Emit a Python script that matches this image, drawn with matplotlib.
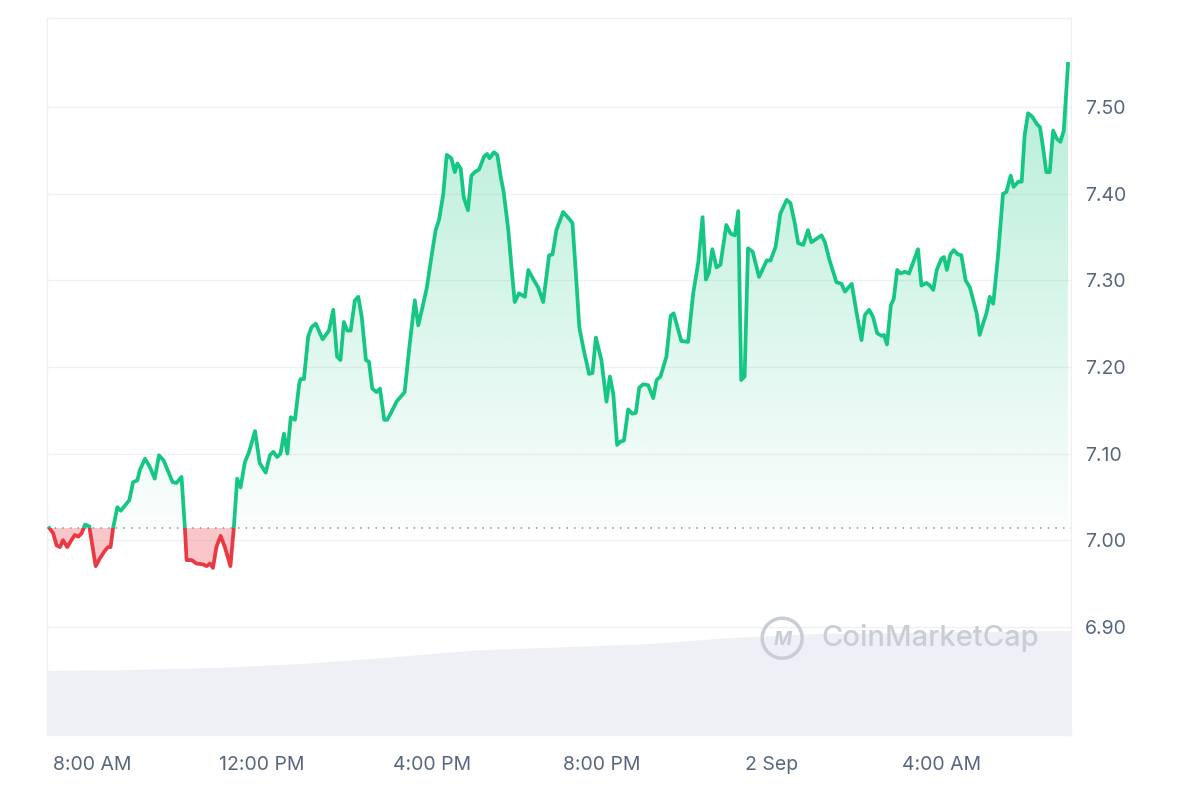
import numpy as np
import matplotlib
matplotlib.use("Agg")
import matplotlib.pyplot as plt
from matplotlib.patches import Rectangle, Ellipse

# hours after 7:00 AM and price (USD)
hours = [0.00, 0.09, 0.17, 0.25, 0.32, 0.42, 0.52, 0.60, 0.68, 0.76, 0.84, 0.94,
         1.09, 1.19, 1.31, 1.38, 1.44, 1.50, 1.60, 1.68, 1.78, 1.88, 1.97, 2.07,
         2.13, 2.25, 2.36, 2.48, 2.58, 2.69, 2.80, 2.90, 2.99, 3.11, 3.19, 3.23,
         3.35, 3.46, 3.62, 3.70, 3.78, 3.85, 3.93, 4.03, 4.13, 4.26, 4.34, 4.42,
         4.50, 4.60, 4.70, 4.84, 4.95, 5.09, 5.19, 5.27, 5.36, 5.44, 5.52, 5.60,
         5.68, 5.78, 5.88, 5.91, 5.99, 6.09, 6.17, 6.27, 6.43, 6.58, 6.68, 6.77,
         6.85, 6.93, 7.01, 7.09, 7.19, 7.27, 7.35, 7.45, 7.52, 7.60, 7.70, 7.78,
         7.88, 7.95, 8.05, 8.17, 8.36, 8.48, 8.60, 8.68, 8.78, 8.88, 8.99, 9.09,
         9.17, 9.27, 9.35, 9.46, 9.54, 9.60, 9.68, 9.75, 9.85, 9.93, 10.01, 10.11,
         10.23, 10.30, 10.36, 10.46, 10.54, 10.62, 10.69, 10.80, 10.88, 10.95, 11.05, 11.19,
         11.27, 11.38, 11.50, 11.62, 11.76, 11.84, 11.93, 12.09, 12.25, 12.31, 12.40, 12.47,
         12.56, 12.70, 12.78, 12.86, 12.99, 13.11, 13.19, 13.27, 13.36, 13.44, 13.52, 13.62,
         13.72, 13.80, 13.88, 13.97, 14.09, 14.21, 14.29, 14.38, 14.52, 14.62, 14.69, 14.87,
         15.03, 15.15, 15.27, 15.37, 15.45, 15.52, 15.60, 15.70, 15.79, 15.93, 16.03, 16.13,
         16.21, 16.28, 16.36, 16.44, 16.55, 16.70, 16.88, 16.97, 17.09, 17.20, 17.35, 17.44,
         17.54, 17.62, 17.74, 17.85, 17.93, 18.05, 18.17, 18.25, 18.36, 18.52, 18.64, 18.72,
         18.88, 18.99, 19.11, 19.19, 19.29, 19.38, 19.48, 19.58, 19.64, 19.71, 19.80, 19.87,
         19.95, 20.03, 20.13, 20.23, 20.32, 20.44, 20.52, 20.64, 20.72, 20.80, 20.88, 20.99,
         21.05, 21.12, 21.20, 21.28, 21.38, 21.46, 21.56, 21.66, 21.82, 21.89, 21.97, 22.05,
         22.13, 22.21, 22.32, 22.44, 22.52, 22.62, 22.69, 22.80, 22.88, 22.95, 23.03, 23.13,
         23.23, 23.31, 23.38, 23.46, 23.54, 23.62, 23.70, 23.79, 23.87, 23.97]
price = [7.014, 7.008, 6.994, 6.992, 7.000, 6.992, 7.000, 7.006, 7.004, 7.008, 7.018, 7.016,
         6.970, 6.979, 6.988, 6.992, 6.992, 7.014, 7.038, 7.034, 7.040, 7.046, 7.067, 7.069,
         7.081, 7.094, 7.085, 7.071, 7.098, 7.092, 7.079, 7.067, 7.066, 7.073, 7.014, 6.977,
         6.977, 6.973, 6.972, 6.970, 6.973, 6.968, 6.992, 7.005, 6.992, 6.970, 7.014, 7.071,
         7.061, 7.090, 7.102, 7.126, 7.089, 7.078, 7.098, 7.102, 7.096, 7.100, 7.123, 7.100,
         7.142, 7.139, 7.181, 7.186, 7.186, 7.235, 7.246, 7.250, 7.232, 7.242, 7.266, 7.212,
         7.208, 7.252, 7.242, 7.242, 7.277, 7.281, 7.258, 7.208, 7.206, 7.175, 7.171, 7.175,
         7.139, 7.139, 7.148, 7.160, 7.171, 7.227, 7.277, 7.248, 7.269, 7.291, 7.327, 7.358,
         7.370, 7.400, 7.445, 7.441, 7.425, 7.435, 7.429, 7.396, 7.381, 7.421, 7.425, 7.428,
         7.443, 7.446, 7.441, 7.448, 7.445, 7.420, 7.402, 7.358, 7.312, 7.275, 7.285, 7.281,
         7.312, 7.302, 7.292, 7.275, 7.329, 7.330, 7.358, 7.379, 7.370, 7.366, 7.300, 7.246,
         7.223, 7.192, 7.193, 7.234, 7.208, 7.160, 7.189, 7.169, 7.110, 7.114, 7.115, 7.151,
         7.146, 7.147, 7.176, 7.180, 7.179, 7.164, 7.185, 7.189, 7.212, 7.259, 7.262, 7.230,
         7.229, 7.285, 7.321, 7.373, 7.301, 7.309, 7.336, 7.315, 7.318, 7.364, 7.354, 7.352,
         7.380, 7.185, 7.189, 7.337, 7.333, 7.304, 7.323, 7.323, 7.339, 7.377, 7.393, 7.389,
         7.366, 7.343, 7.341, 7.358, 7.344, 7.348, 7.352, 7.344, 7.323, 7.298, 7.296, 7.287,
         7.296, 7.264, 7.231, 7.260, 7.266, 7.258, 7.239, 7.236, 7.237, 7.226, 7.271, 7.279,
         7.312, 7.308, 7.310, 7.308, 7.320, 7.336, 7.294, 7.297, 7.294, 7.289, 7.312, 7.325,
         7.327, 7.312, 7.330, 7.335, 7.330, 7.329, 7.300, 7.292, 7.262, 7.237, 7.250, 7.262,
         7.281, 7.273, 7.327, 7.400, 7.402, 7.421, 7.408, 7.414, 7.414, 7.468, 7.493, 7.489,
         7.481, 7.477, 7.454, 7.425, 7.425, 7.473, 7.464, 7.460, 7.473, 7.550]

# 24h volume (millions, rough shape of the grey band)
vol_hours = [-0.06, 2, 4, 6, 8, 10, 12, 14, 16, 18, 20, 22, 24.04]
volume = [63, 64, 66, 70, 76, 83, 86, 89, 95, 99, 100, 101, 102]

tick_hours = [1, 5, 9, 13, 17, 21]
tick_labels = ['8:00 AM', '12:00 PM', '4:00 PM', '8:00 PM', '2 Sep', '4:00 AM']
y_ticks = [6.90, 7.00, 7.10, 7.20, 7.30, 7.40, 7.50]

GREEN = '#16c784'
RED = '#ea3943'
TXT = '#58667e'

plt.rcParams['font.family'] = ['Inter', 'DejaVu Sans']

h = np.array(hours)
p = np.array(price)
base = p[0]
XMIN, XMAX = -0.06, 24.04
YMIN, YMAX = 6.775, 7.603

fig = plt.figure(figsize=(12, 8), dpi=100)
pos = [0.039, 0.08125, 0.8535, 0.89625]

# volume band behind the price axes
axv = fig.add_axes(pos)
axv.fill_between(vol_hours, volume, 0, color='#eef0f5', lw=0)
axv.set_xlim(XMIN, XMAX)
axv.set_ylim(0, 700)
axv.axis('off')

ax = fig.add_axes(pos)
ax.set_facecolor('none')
ax.set_xlim(XMIN, XMAX)
ax.set_ylim(YMIN, YMAX)

for yt in y_ticks:
    ax.axhline(yt, color='#f0f0f0', lw=1, zorder=0)

# green gradient under the line, above the open price
clip = ax.fill_between(h, np.maximum(p, base), base, facecolor='none', lw=0)
top = p.max()
grad = np.linspace(0, 1, 256).reshape(-1, 1)
rgba = np.zeros((256, 1, 4))
rgba[..., :3] = matplotlib.colors.to_rgb(GREEN)
rgba[..., 3] = 0.02 + 0.30 * grad[:, :]
im = ax.imshow(rgba, aspect='auto', origin='lower', extent=(h[0], h[-1], base, top),
               zorder=1, interpolation='bilinear')
im.set_clip_path(clip.get_paths()[0], transform=ax.transData)

# red fill below the open price
ax.fill_between(h, p, base, where=p < base, interpolate=True, color=RED, alpha=0.28,
                lw=0, zorder=1)

ax.plot([XMIN, XMAX], [base, base], color='#8a8f99', lw=1.1, ls=(0, (1, 4)), zorder=2)

up, = ax.plot(h, p, color=GREEN, lw=2.7, solid_joinstyle='round', zorder=3)
dn, = ax.plot(h, p, color=RED, lw=2.7, solid_joinstyle='round', zorder=3)
up.set_clip_path(Rectangle((XMIN, base), XMAX - XMIN, YMAX - base, transform=ax.transData))
dn.set_clip_path(Rectangle((XMIN, YMIN), XMAX - XMIN, base - YMIN, transform=ax.transData))

ax.yaxis.tick_right()
ax.set_yticks(y_ticks)
ax.set_yticklabels(['%.2f' % v for v in y_ticks])
ax.set_xticks(tick_hours)
ax.set_xticklabels(tick_labels)
ax.tick_params(axis='y', length=0, pad=10, labelsize=14, labelcolor=TXT)
ax.tick_params(axis='x', length=0, pad=15, labelsize=14, labelcolor=TXT)
for s in ax.spines.values():
    s.set_color('#f0f0f0')
    s.set_linewidth(1)

# watermark
ax.add_patch(Ellipse((0.718, 0.135), 40 / 1024, 40 / 717, transform=ax.transAxes,
                     fill=False, ec='#c9cdd5', lw=2.5, zorder=4))
ax.text(0.718, 0.133, 'M', transform=ax.transAxes, ha='center', va='center',
        fontsize=14, color='#c9cdd5', fontweight='bold', style='italic', zorder=4)
ax.text(0.756, 0.135, 'CoinMarketCap', transform=ax.transAxes, ha='left', va='center',
        fontsize=21, color='#c9cdd5', fontweight='medium', zorder=4)

fig.savefig('out.png', dpi=100)
